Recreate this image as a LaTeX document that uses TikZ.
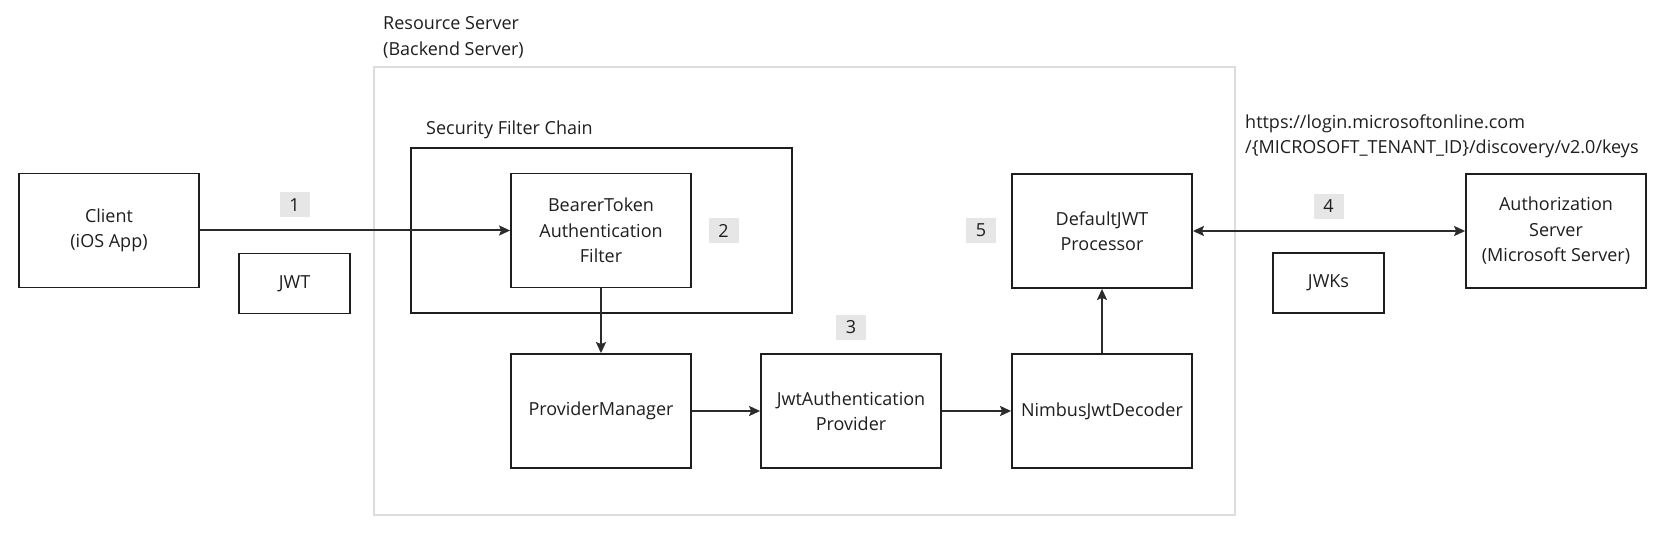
\documentclass[tikz,border=0pt]{standalone}
\usepackage{fontspec}
\setmainfont{Open Sans}
\usetikzlibrary{arrows.meta}
\definecolor{ink}{HTML}{1E1E1E}
\definecolor{arrowc}{HTML}{2B2B2B}
\definecolor{tagfill}{HTML}{E6E6E6}
\definecolor{outerc}{HTML}{DCDCDC}
\begin{document}
\begin{tikzpicture}[x=1pt,y=-1pt,
  every node/.style={font=\fontsize{18}{25.5}\selectfont, text=ink},
  box/.style={draw=ink, line width=1.8pt, minimum width=180pt, minimum height=114pt, align=center, inner sep=0pt},
  smallbox/.style={draw=ink, line width=1.8pt, minimum width=111pt, minimum height=60pt, align=center, inner sep=0pt},
  tag/.style={fill=tagfill, minimum width=30pt, minimum height=25pt, inner sep=0pt},
  lbl/.style={align=left, inner sep=0pt, anchor=west},
  arr/.style={draw=arrowc, line width=2pt, -{Stealth[length=11pt,width=10pt,inset=2pt]}},
  darr/.style={draw=arrowc, line width=2pt, {Stealth[length=11pt,width=10pt,inset=2pt]}-{Stealth[length=11pt,width=10pt,inset=2pt]}}
]
\useasboundingbox (0,0) rectangle (1667,537);
% outer resource server container
\node[draw=outerc, line width=1.5pt, minimum width=861pt, minimum height=448pt, inner sep=0pt] (rs) at (804.5,291) {};
\node[lbl] (rslbl) at (383,37.5) {Resource Server\\(Backend Server)};
% security filter chain
\node[draw=ink, line width=1.8pt, minimum width=381pt, minimum height=165pt, inner sep=0pt] (sfc) at (601.5,230.5) {};
\node[lbl] (sfclbl) at (426,130) {Security Filter Chain};
% nodes
\node[box] (client) at (109,230.5) {Client\\(iOS App)};
\node[smallbox] (jwt) at (294.5,283.5) {JWT};
\node[box] (bearer) at (601,230.5) {BearerToken\\Authentication\\Filter};
\node[box] (pm) at (601,411) {ProviderManager};
\node[box] (jap) at (851,411) {JwtAuthentication\\Provider};
\node[box] (nimbus) at (1102,411) {NimbusJwtDecoder};
\node[box] (dflt) at (1102,231) {DefaultJWT\\Processor};
\node[box] (auth) at (1556,231) {Authorization\\Server\\(Microsoft Server)};
\node[smallbox] (jwks) at (1328.5,283) {JWKs};
\node[lbl] (url) at (1245,136.5) {https://login.microsoftonline.com\\/\{MICROSOFT\_TENANT\_ID\}/discovery/v2.0/keys};
% tags
\node[tag] (t1) at (294.5,205) {1};
\node[tag] (t2) at (723.5,231) {2};
\node[tag] (t3) at (851,327.5) {3};
\node[tag] (t4) at (1328.5,206.5) {4};
\node[tag] (t5) at (981,230.5) {5};
% connectors
\draw[arr] (client) -- (bearer);
\draw[arr] (bearer) -- (pm);
\draw[arr] (pm) -- (jap);
\draw[arr] (jap) -- (nimbus);
\draw[arr] (nimbus) -- (dflt);
\draw[darr] (dflt) -- (auth);
\end{tikzpicture}
\end{document}
